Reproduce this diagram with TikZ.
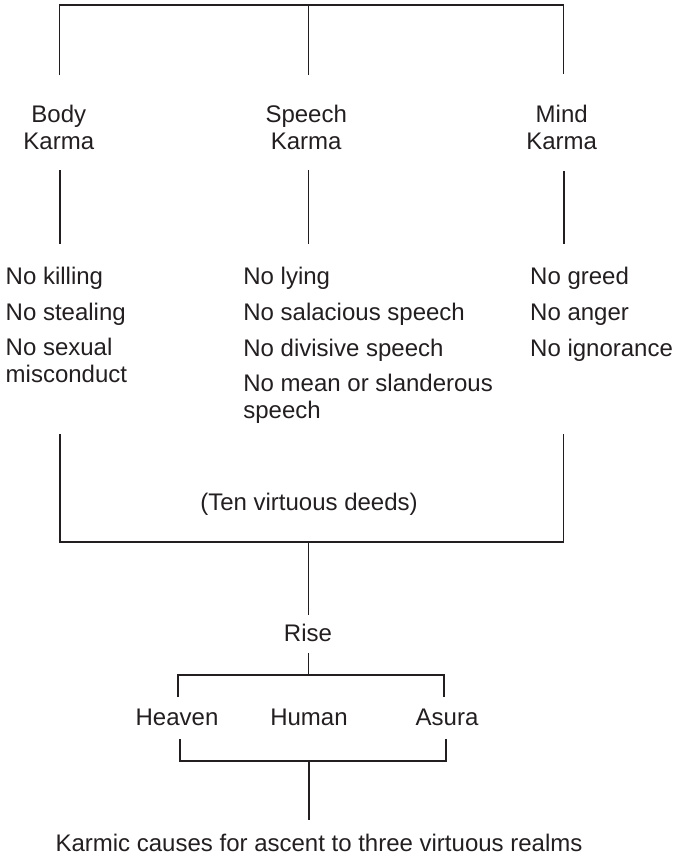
\documentclass[tikz,border=0pt]{standalone}
\usepackage{fontspec}
\setmainfont{Liberation Sans}
\definecolor{ink}{HTML}{231F20}
\begin{document}
\begin{tikzpicture}[x=1pt,y=-1pt,
  lbl/.style={inner sep=0pt,text=ink,font=\fontsize{24}{26.5}\selectfont},
  ctr/.style={lbl,align=center,anchor=base},
  lft/.style={lbl,align=left,anchor=base west},
  conn/.style={draw=ink,line width=1.8pt,line cap=butt,line join=miter}]
\useasboundingbox (0,0) rectangle (681,857);
% headings (base anchor = baseline of last line)
\node[ctr] (body) at (58.8,149) {Body\\Karma};
\node[ctr] (speech) at (306.2,149) {Speech\\Karma};
\node[ctr] (mind) at (561.7,149) {Mind\\Karma};
% items
\node[lft] (kill) at (5.5,284) {No killing};
\node[lft] (steal) at (5.5,320) {No stealing};
\node[lft] (sex) at (5.5,382) {No sexual\\misconduct};
\node[lft] (lie) at (243.2,284) {No lying};
\node[lft] (sal) at (243.2,320) {No salacious speech};
\node[lft] (div) at (243.2,356) {No divisive speech};
\node[lft] (mean) at (243.2,418) {No mean or slanderous\\speech};
\node[lft] (greed) at (530,284) {No greed};
\node[lft] (anger) at (530,320) {No anger};
\node[lft] (ign) at (530,356) {No ignorance};
\node[ctr] (ten) at (309,510) {(Ten virtuous deeds)};
\node[ctr] (rise) at (308,641.5) {Rise};
\node[ctr] (heaven) at (177,725.5) {Heaven};
\node[ctr] (human) at (309,725.5) {Human};
\node[ctr] (asura) at (447,725.5) {Asura};
\node[ctr] (causes) at (319,851.5) {Karmic causes for ascent to three virtuous realms};
% coordinates
\coordinate (tl) at (59.5,5); \coordinate (tm) at (308.5,5); \coordinate (tr) at (563.5,5);
\coordinate (hl) at (59.5,75); \coordinate (hm) at (308.5,75); \coordinate (hr) at (563.5,74);
\coordinate (al) at (59.7,170); \coordinate (am) at (308.5,170); \coordinate (ar) at (564,171);
\coordinate (bl) at (59.7,244); \coordinate (bm) at (308.5,244); \coordinate (br) at (564,244);
\coordinate (cl) at (59.7,434); \coordinate (cr) at (563.5,434);
\coordinate (dl) at (59.7,542); \coordinate (dm) at (308.5,542); \coordinate (dr) at (563.5,542);
\coordinate (rtop) at (308.5,615);
\coordinate (rbot) at (308.5,653); \coordinate (ej) at (308.5,675);
\coordinate (el) at (178,675); \coordinate (er) at (444,675);
\coordinate (elb) at (178,697); \coordinate (erb) at (444,697);
\coordinate (fl) at (180,739); \coordinate (fr) at (446,739);
\coordinate (fll) at (180,761); \coordinate (frr) at (446,761); \coordinate (fm) at (309,761);
\coordinate (gend) at (309,820);
% connectors
\draw[conn] (hl) -- (tl) -- (tr) -- (hr);
\draw[conn] (tm) -- (hm);
\draw[conn] (al) -- (bl);
\draw[conn] (am) -- (bm);
\draw[conn] (ar) -- (br);
\draw[conn] (cl) -- (dl) -- (dr) -- (cr);
\draw[conn] (dm) -- (rtop);
\draw[conn] (rbot) -- (ej);
\draw[conn] (elb) -- (el) -- (er) -- (erb);
\draw[conn] (fl) -- (fll) -- (frr) -- (fr);
\draw[conn] (fm) -- (gend);
\end{tikzpicture}
\end{document}
